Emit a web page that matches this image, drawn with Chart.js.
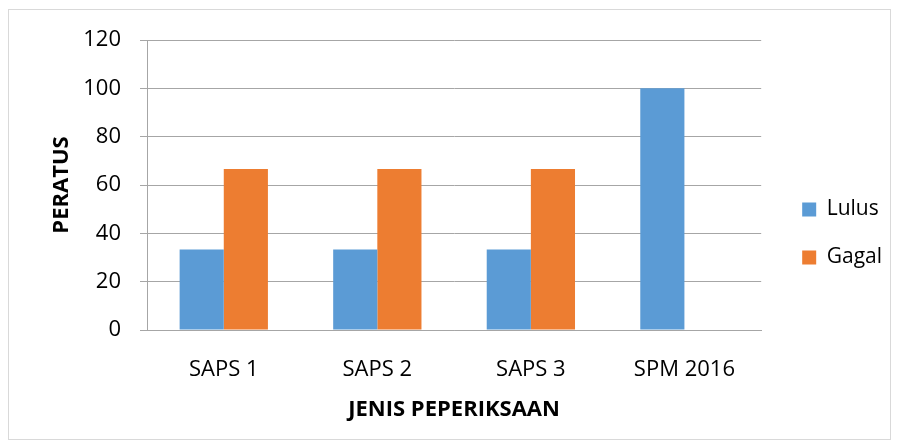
<!DOCTYPE html>
<html>
<head>
<meta charset="utf-8">
<script src="https://cdn.jsdelivr.net/npm/chart.js@4"></script>
<style>
  body { margin: 0; background: #fff; }
  #frame { position: absolute; left: 8px; top: 9px; width: 881px; height: 429px; border: 1px solid #d9d9d9; }
  #wrap { position: absolute; left: 0; top: 0; width: 898px; height: 447px; }
</style>
</head>
<body>
<div id="frame"></div>
<div id="wrap"><canvas id="chart" width="898" height="447"></canvas></div>
<script>
const categories = ['SAPS 1', 'SAPS 2', 'SAPS 3', 'SPM 2016'];
const lulus = [33.33, 33.33, 33.33, 100];
const gagal = [66.67, 66.67, 66.67, 0];
const yTicks = [0, 20, 40, 60, 80, 100, 120];

const font = "'Open Sans', sans-serif";

// push the legend a bit further from the plot, like the original
const legendShift = {
    id: 'legendShift',
    afterLayout(chart) {
        chart.legend.left += 14;
        chart.legend.right += 14;
    }
};

new Chart(document.getElementById('chart'), {
    type: 'bar',
    data: {
        labels: categories,
        datasets: [
            { label: 'Lulus', data: lulus, backgroundColor: '#5b9bd5' },
            { label: 'Gagal', data: gagal, backgroundColor: '#ed7d31' }
        ]
    },
    plugins: [legendShift],
    options: {
        responsive: false,
        animation: false,
        datasets: { bar: { categoryPercentage: 0.575, barPercentage: 1 } },
        layout: { padding: { left: 45, top: 40, right: 20, bottom: 20 } },
        plugins: {
            tooltip: { enabled: false },
            legend: {
                position: 'right',
                align: 'center',
                labels: {
                    boxWidth: 14, boxHeight: 14, padding: 27,
                    color: '#000', font: { family: font, size: 21 }
                }
            }
        },
        scales: {
            y: {
                min: 0, max: 120,
                afterBuildTicks: (s) => { s.ticks = yTicks.map(v => ({ value: v })); },
                afterFit: (s) => { s.width = 102; },
                grid: { color: '#a6a6a6', tickLength: 7, drawTicks: true },
                border: { display: true, color: '#a6a6a6' },
                ticks: { color: '#000', padding: 19, font: { family: font, size: 22 } },
                title: { display: true, text: 'PERATUS', color: '#000', font: { family: font, size: 22, weight: 'bold' } }
            },
            x: {
                afterFit: (s) => { s.height = 97; },
                grid: { display: false },
                border: { display: true, color: '#a6a6a6' },
                ticks: { color: '#000', padding: 19, font: { family: font, size: 22 } },
                title: { display: true, text: 'JENIS PEPERIKSAAN', color: '#000', padding: { top: 10 }, font: { family: font, size: 22, weight: 'bold' } }
            }
        }
    }
});
</script>
</body>
</html>
